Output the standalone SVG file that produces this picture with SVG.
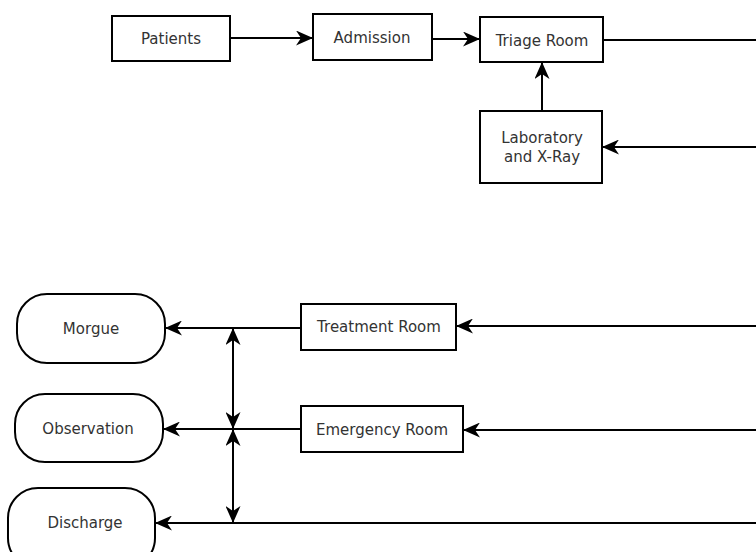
<svg xmlns="http://www.w3.org/2000/svg" width="756" height="552" viewBox="0 0 756 552">
<style>
.box{fill:#fff;stroke:#000;stroke-width:2}
.t{font-family:"DejaVu Sans",sans-serif;font-size:15px;fill:#333;text-anchor:middle}
.c{fill:none;stroke:#000;stroke-width:2}
</style>
<defs>
<marker id="ah" markerUnits="userSpaceOnUse" markerWidth="17" markerHeight="15" refX="16" refY="7.5" orient="auto-start-reverse" viewBox="0 0 17 15">
<path d="M0,0 L17,7.5 L0,15 L5,7.5 z" fill="#000"/>
</marker>
</defs>
<rect width="756" height="552" fill="#fff"/>
<g id="connectors">
<line class="c" x1="230" y1="38" x2="312" y2="38" marker-end="url(#ah)"/>
<line class="c" x1="432" y1="39" x2="479" y2="39" marker-end="url(#ah)"/>
<line class="c" x1="603" y1="40" x2="756" y2="40"/>
<line class="c" x1="542" y1="111" x2="542" y2="63" marker-end="url(#ah)"/>
<line class="c" x1="756" y1="147" x2="603" y2="147" marker-end="url(#ah)"/>
<line class="c" x1="756" y1="326" x2="457" y2="326" marker-end="url(#ah)"/>
<line class="c" x1="756" y1="430" x2="464" y2="430" marker-end="url(#ah)"/>
<line class="c" x1="301" y1="328" x2="166" y2="328" marker-end="url(#ah)"/>
<line class="c" x1="301" y1="429" x2="164" y2="429" marker-end="url(#ah)"/>
<line class="c" x1="756" y1="523" x2="156" y2="523" marker-end="url(#ah)"/>
<line class="c" x1="233" y1="329" x2="233" y2="428" marker-start="url(#ah)" marker-end="url(#ah)"/>
<line class="c" x1="233" y1="430" x2="233" y2="522" marker-start="url(#ah)" marker-end="url(#ah)"/>
</g>
<g id="patients"><rect class="box" x="112" y="16" width="118" height="45"/><text class="t" x="171" y="43.5">Patients</text></g>
<g id="admission"><rect class="box" x="313" y="14" width="119" height="46"/><text class="t" x="372" y="42.5">Admission</text></g>
<g id="triage"><rect class="box" x="480" y="17" width="123" height="45"/><text class="t" x="542" y="45.5">Triage Room</text></g>
<g id="lab"><rect class="box" x="480" y="111" width="122" height="72"/><text class="t" x="542" y="142.5">Laboratory</text><text class="t" x="542" y="161.5">and X-Ray</text></g>
<g id="treatment"><rect class="box" x="301" y="304" width="155" height="46"/><text class="t" x="379" y="331.5">Treatment Room</text></g>
<g id="emergency"><rect class="box" x="301" y="406" width="162" height="46"/><text class="t" x="382" y="434.5">Emergency Room</text></g>
<g id="morgue"><rect class="box" x="17" y="294" width="148" height="69" rx="30" ry="30"/><text class="t" x="91" y="333.5">Morgue</text></g>
<g id="observation"><rect class="box" x="15" y="394" width="148" height="68" rx="30" ry="30"/><text class="t" x="88" y="433.5">Observation</text></g>
<g id="discharge"><rect class="box" x="8" y="488" width="147" height="80" rx="30" ry="30"/><text class="t" x="85" y="527.5">Discharge</text></g>
</svg>
